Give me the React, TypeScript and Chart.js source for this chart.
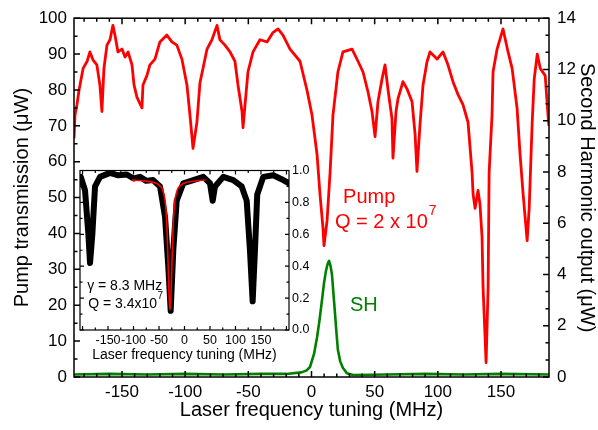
import React, { useEffect, useRef } from 'react';
import { Chart, registerables } from 'chart.js';

Chart.register(...registerables);

const FONT = '"Liberation Sans", Arial, Helvetica, sans-serif';

// ---- Main plot: pump transmission (left axis, µW) ----
const pumpFreq = [
  -188, -187.2, -185.6, -184.0, -182.4, -180.8, -177.6, -175.4, -173.0, -169.9,
  -167.5, -165.9, -164.3, -161.9, -159.5, -157.2, -155.6, -153.2, -150.0, -147.6,
  -145.2, -142.1, -140.5, -138.2, -134.2, -133.4, -130.3, -127.9, -123.9, -120.0,
  -114.5, -110.5, -106.6, -102.6, -98.6, -96.2, -93.8, -90.7, -88.3, -85.9,
  -82.7, -78.8, -74.8, -72.5, -68.5, -64.5, -60.6, -58.2, -55.0, -54.2,
  -51.9, -50.3, -46.3, -40.8, -35.2, -30.5, -26.5, -22.6, -17.0, -9.1,
  -3.6, 0.4, 4.4, 6.7, 9.1, 9.9, 12.3, 14.7, 17.0, 20.9,
  24.9, 32.1, 36.8, 40.8, 44.7, 47.9, 50.3, 52.6, 55.8, 58.2,
  60.6, 63.7, 64.5, 66.9, 68.5, 72.4, 75.6, 79.6, 82.0, 83.5,
  85.9, 88.3, 91.4, 93.8, 99.4, 104.1, 108.0, 112.0, 116.0, 119.9,
  123.9, 127.1, 127.9, 129.5, 131.8, 133.4, 135.0, 135.8, 138.2, 139.8,
  140.6, 142.9, 143.7, 146.9, 151.6, 155.6, 158.8, 162.7, 165.1, 167.5,
  170.7, 172.3, 174.7, 176.3, 178.7, 181.1, 185.0, 187.4, 188,
];
const pumpPower = [
  66.5, 73, 76, 80, 83, 86, 88, 90.6, 88.4, 87,
  81.4, 74, 86, 92.5, 94, 98, 95.3, 90.6, 91.4, 89.2,
  90.6, 87, 81.4, 78, 75, 81.4, 84, 87, 88.6, 93.4,
  95.3, 93.4, 92.5, 88.6, 81.4, 73, 63.7, 71, 82, 86,
  91.4, 94, 98, 94, 92.5, 90.6, 88, 81.4, 74, 69.5,
  78.7, 85, 90.6, 94, 93.4, 96, 97, 95.3, 91.4, 88,
  80, 73, 62, 51, 41.5, 36.6, 43.5, 57, 73, 85,
  90.6, 91.4, 88, 85, 79.5, 74, 67, 76.7, 83, 87,
  80, 72, 61, 74, 77.6, 82.3, 80.3, 76.7, 67.6, 57.3,
  70.4, 81.4, 87.8, 90.6, 88.6, 90.6, 87, 82.3, 78.7, 75.9,
  71, 57, 51, 47, 52, 48, 39, 25, 4, 25,
  57, 73, 85, 91.4, 97, 90.6, 86, 75, 62, 51,
  38, 47, 71, 83, 90, 86, 84, 72, 70,
];

// ---- Main plot: second harmonic (right axis, µW) ----
const shFreq = [
  -188, -160, -130, -100, -70, -40, -20, -8, -4, -1.2,
  2, 4.4, 6.3, 8.3, 10, 11.5, 12.7, 13.9, 15, 16.2,
  17.3, 18.6, 19.8, 20.9, 22.8, 24.9, 28, 32.9, 60, 90,
  120, 150, 188,
];
const shPower = [
  0.1, 0.12, 0.1, 0.12, 0.1, 0.12, 0.12, 0.18, 0.25, 0.39,
  0.9, 1.55, 2.2, 3.0, 3.7, 4.15, 4.4, 4.53, 4.35, 4.0,
  3.3, 2.48, 1.7, 1.05, 0.6, 0.35, 0.15, 0.08, 0.1, 0.12,
  0.1, 0.12, 0.1,
];

// ---- Inset: normalized transmission ----
const insetFreq = [
  -203.5, -195.1, -188.6, -185.3, -180.8, -175.5, -165.7, -146.1, -130, -113.3,
  -100, -87.3, -75, -61.8, -48.0, -38.2, -31.8, -27.1, -22.0, -15.3,
  -2.4, 17.3, 36.9, 50.0, 55.3, 59.8, 76.1, 95.7, 112.2, 122.0,
  128.4, 133.7, 138.2, 142.7, 154.5, 174.1, 193.7, 205,
];
const insetTrans = [
  0.96, 0.875, 0.6, 0.42, 0.6, 0.9, 0.96, 0.985, 0.97, 0.975,
  0.95, 0.96, 0.935, 0.94, 0.9, 0.71, 0.4, 0.12, 0.5, 0.81,
  0.92, 0.94, 0.96, 0.92, 0.81, 0.9, 0.96, 0.94, 0.9, 0.81,
  0.5, 0.18, 0.5, 0.85, 0.96, 0.97, 0.94, 0.92,
];
// Lorentzian fit (red)
const fitFreq = [
  -103.5, -80, -60, -50, -43, -38, -35, -32.5, -30, -28.4,
  -26.8, -24.3, -21.8, -18.8, -13.8, -6.8, 3.2, 23, 41.6,
];
const fitTrans = [
  0.94, 0.935, 0.925, 0.91, 0.88, 0.81, 0.68, 0.45, 0.2, 0.125,
  0.2, 0.45, 0.68, 0.81, 0.88, 0.91, 0.925, 0.935, 0.94,
];

// ---- Tick labels ----
const mainXTickValues = [-150, -100, -50, 0, 50, 100, 150];
const leftTickValues = [0, 10, 20, 30, 40, 50, 60, 70, 80, 90, 100];
const rightTickValues = [0, 2, 4, 6, 8, 10, 12, 14];
const insetXTickValues = [-150, -100, -50, 0, 50, 100, 150];
const insetYTickValues = [0, 0.2, 0.4, 0.6, 0.8, 1.0];

type Mark = [number, boolean];
function marks(min: number, max: number, step: number, majorEvery: number): Mark[] {
  const out: Mark[] = [];
  const n = Math.round((max - min) / step);
  for (let i = 0; i <= n; i++) {
    const v = min + i * step;
    const r = v / majorEvery;
    out.push([v, Math.abs(r - Math.round(r)) < 1e-6]);
  }
  return out;
}

function makeFramePlugin(cfg: {
  lineWidth: number; major: number; minor: number;
  xId: string; xMarks: Mark[];
  leftId: string; leftMarks: Mark[];
  rightId: string; rightMarks: Mark[];
}) {
  return {
    id: 'frameTicks',
    afterDatasetsDraw(chart: any) {
      const { ctx, chartArea: a } = chart;
      ctx.save();
      ctx.strokeStyle = '#000';
      ctx.lineWidth = cfg.lineWidth;
      ctx.lineCap = 'butt';
      ctx.beginPath();
      const xs = chart.scales[cfg.xId];
      for (const [v, maj] of cfg.xMarks) {
        const p = xs.getPixelForValue(v);
        const len = maj ? cfg.major : cfg.minor;
        ctx.moveTo(p, a.bottom); ctx.lineTo(p, a.bottom - len);
        ctx.moveTo(p, a.top); ctx.lineTo(p, a.top + len);
      }
      const yl = chart.scales[cfg.leftId];
      for (const [v, maj] of cfg.leftMarks) {
        const p = yl.getPixelForValue(v);
        const len = maj ? cfg.major : cfg.minor;
        ctx.moveTo(a.left, p); ctx.lineTo(a.left + len, p);
      }
      const yr = chart.scales[cfg.rightId];
      for (const [v, maj] of cfg.rightMarks) {
        const p = yr.getPixelForValue(v);
        const len = maj ? cfg.major : cfg.minor;
        ctx.moveTo(a.right, p); ctx.lineTo(a.right - len, p);
      }
      ctx.stroke();
      ctx.strokeRect(a.left, a.top, a.right - a.left, a.bottom - a.top);
      ctx.restore();
    },
  };
}

function makeTextPlugin(draw: (chart: any) => void) {
  return {
    id: 'annotText',
    afterDraw(chart: any) {
      chart.ctx.save();
      draw(chart);
      chart.ctx.restore();
    },
  };
}

const tickFont = (size: number) => ({ family: FONT, size });
const noGrid = { display: false, drawTicks: false, tickLength: 0 };

export default function App() {
  const mainRef = useRef<HTMLCanvasElement | null>(null);
  const insetRef = useRef<HTMLCanvasElement | null>(null);

  useEffect(() => {
    document.body.style.margin = '0';
    if (!mainRef.current || !insetRef.current) return;

    const mainFrame = makeFramePlugin({
      lineWidth: 1.5, major: 6, minor: 3.5,
      xId: 'x', xMarks: marks(-180, 180, 10, 50),
      leftId: 'y', leftMarks: marks(0, 100, 5, 10),
      rightId: 'y2', rightMarks: marks(0, 14, 2 / 3, 2),
    });

    const mainText = makeTextPlugin((chart) => {
      const { ctx, scales } = chart;
      ctx.textBaseline = 'middle';
      ctx.textAlign = 'left';
      ctx.fillStyle = '#ff0000';
      ctx.font = `20px ${FONT}`;
      ctx.fillText('Pump', scales.x.getPixelForValue(25), scales.y.getPixelForValue(50));
      const qx = scales.x.getPixelForValue(18.6);
      const qy = scales.y.getPixelForValue(43);
      const qText = 'Q = 2 x 10';
      ctx.fillText(qText, qx, qy);
      const w = ctx.measureText(qText).width;
      ctx.font = `14px ${FONT}`;
      ctx.fillText('7', qx + w + 1, qy - 12);
      ctx.fillStyle = '#008000';
      ctx.font = `20px ${FONT}`;
      ctx.fillText('SH', scales.x.getPixelForValue(30.5), scales.y2.getPixelForValue(2.8));
    });

    const main = new Chart(mainRef.current, {
      type: 'line',
      data: {
        datasets: [
          {
            label: 'Pump',
            data: pumpFreq.map((x, i) => ({ x, y: pumpPower[i] })),
            yAxisID: 'y',
            borderColor: '#ff0000',
            borderWidth: 2.8,
            borderJoinStyle: 'round',
            pointRadius: 0,
            tension: 0,
          },
          {
            label: 'SH',
            data: shFreq.map((x, i) => ({ x, y: shPower[i] })),
            yAxisID: 'y2',
            borderColor: '#008000',
            borderWidth: 2.6,
            borderJoinStyle: 'round',
            pointRadius: 0,
            tension: 0,
          },
        ],
      },
      options: {
        responsive: false,
        animation: false,
        events: [],
        layout: { padding: { top: 16, left: 0, right: 0, bottom: 0 } },
        plugins: { legend: { display: false }, tooltip: { enabled: false } },
        scales: {
          x: {
            type: 'linear',
            position: 'bottom',
            min: -188,
            max: 188,
            grid: noGrid,
            border: { display: false },
            afterBuildTicks: (s: any) => { s.ticks = mainXTickValues.map((value) => ({ value })); },
            afterFit: (s: any) => { s.height = 53; },
            ticks: { autoSkip: false, maxRotation: 0, padding: 5, color: '#000', font: tickFont(17) },
            title: {
              display: true,
              text: 'Laser frequency tuning (MHz)',
              color: '#000',
              font: { family: FONT, size: 20, lineHeight: 1 },
              padding: { top: 0, bottom: 10 },
            },
          },
          y: {
            type: 'linear',
            position: 'left',
            min: 0,
            max: 100,
            grid: noGrid,
            border: { display: false },
            afterBuildTicks: (s: any) => { s.ticks = leftTickValues.map((value) => ({ value })); },
            afterFit: (s: any) => { s.width = 74; },
            ticks: { autoSkip: false, padding: 7, color: '#000', font: tickFont(17) },
            title: {
              display: true,
              text: 'Pump transmission (\u03bcW)',
              color: '#000',
              font: { family: FONT, size: 20, lineHeight: 1 },
              padding: { top: 12, bottom: 0 },
            },
          },
          y2: {
            type: 'linear',
            position: 'right',
            min: 0,
            max: 14,
            grid: noGrid,
            border: { display: false },
            afterBuildTicks: (s: any) => { s.ticks = rightTickValues.map((value) => ({ value })); },
            afterFit: (s: any) => { s.width = 49; },
            ticks: { autoSkip: false, padding: 8, color: '#000', font: tickFont(17) },
            title: {
              display: true,
              text: 'Second Harmonic output (\u03bcW)',
              color: '#000',
              font: { family: FONT, size: 20, lineHeight: 1 },
              padding: { top: 1, bottom: 0 },
            },
          },
        },
      },
      plugins: [mainFrame, mainText],
    } as any);

    const insetFrame = makeFramePlugin({
      lineWidth: 1.2, major: 4, minor: 2.5,
      xId: 'x', xMarks: marks(-200, 200, 25, 50),
      leftId: 'y', leftMarks: marks(0, 1, 0.1, 0.2),
      rightId: 'y', rightMarks: marks(0, 1, 0.1, 0.2),
    });

    const insetText = makeTextPlugin((chart) => {
      const { ctx, scales } = chart;
      ctx.textBaseline = 'middle';
      ctx.textAlign = 'left';
      ctx.fillStyle = '#000';
      ctx.font = `14px ${FONT}`;
      ctx.fillText('\u03b3 = 8.3 MHz', scales.x.getPixelForValue(-191), scales.y.getPixelForValue(0.275));
      const qx = scales.x.getPixelForValue(-189);
      const qy = scales.y.getPixelForValue(0.1625);
      const qText = 'Q = 3.4x10';
      ctx.fillText(qText, qx, qy);
      const w = ctx.measureText(qText).width;
      ctx.font = `10px ${FONT}`;
      ctx.fillText('7', qx + w + 0.5, qy - 8);
    });

    const inset = new Chart(insetRef.current, {
      type: 'line',
      data: {
        datasets: [
          {
            label: 'Fit',
            data: fitFreq.map((x, i) => ({ x, y: fitTrans[i] })),
            borderColor: '#ff0000',
            borderWidth: 1.6,
            pointRadius: 0,
            tension: 0.3,
          },
          {
            label: 'Transmission',
            data: insetFreq.map((x, i) => ({ x, y: insetTrans[i] })),
            borderColor: '#000',
            borderWidth: 6,
            borderJoinStyle: 'round',
            borderCapStyle: 'round',
            pointRadius: 0,
            tension: 0,
          },
        ],
      },
      options: {
        responsive: false,
        animation: false,
        events: [],
        layout: { padding: { top: 10, left: 6, right: 0, bottom: 0 } },
        plugins: { legend: { display: false }, tooltip: { enabled: false } },
        scales: {
          x: {
            type: 'linear',
            position: 'bottom',
            min: -205,
            max: 205,
            grid: noGrid,
            border: { display: false },
            afterBuildTicks: (s: any) => { s.ticks = insetXTickValues.map((value) => ({ value })); },
            afterFit: (s: any) => { s.height = 42; },
            ticks: { autoSkip: false, maxRotation: 0, padding: 3, color: '#000', font: tickFont(12.5) },
            title: {
              display: true,
              text: 'Laser frequency tuning (MHz)',
              color: '#000',
              font: { family: FONT, size: 14, lineHeight: 1 },
              padding: { top: 0, bottom: 10 },
            },
          },
          y: {
            type: 'linear',
            position: 'right',
            min: 0,
            max: 1,
            grid: noGrid,
            border: { display: false },
            afterBuildTicks: (s: any) => { s.ticks = insetYTickValues.map((value) => ({ value })); },
            afterFit: (s: any) => { s.width = 35; },
            ticks: {
              autoSkip: false,
              padding: 3,
              color: '#000',
              font: tickFont(12.5),
              callback: (v: any) => Number(v).toFixed(1),
            },
          },
        },
      },
      plugins: [insetFrame, insetText],
    } as any);

    return () => {
      main.destroy();
      inset.destroy();
    };
  }, []);

  return (
    <div style={{ position: 'relative', width: 598, height: 430, background: '#fff' }}>
      <canvas
        ref={mainRef}
        width={598}
        height={430}
        style={{ position: 'absolute', left: 0, top: 0, width: 598, height: 430 }}
      />
      <canvas
        ref={insetRef}
        width={250}
        height={212}
        style={{ position: 'absolute', left: 74, top: 160, width: 250, height: 212 }}
      />
    </div>
  );
}
